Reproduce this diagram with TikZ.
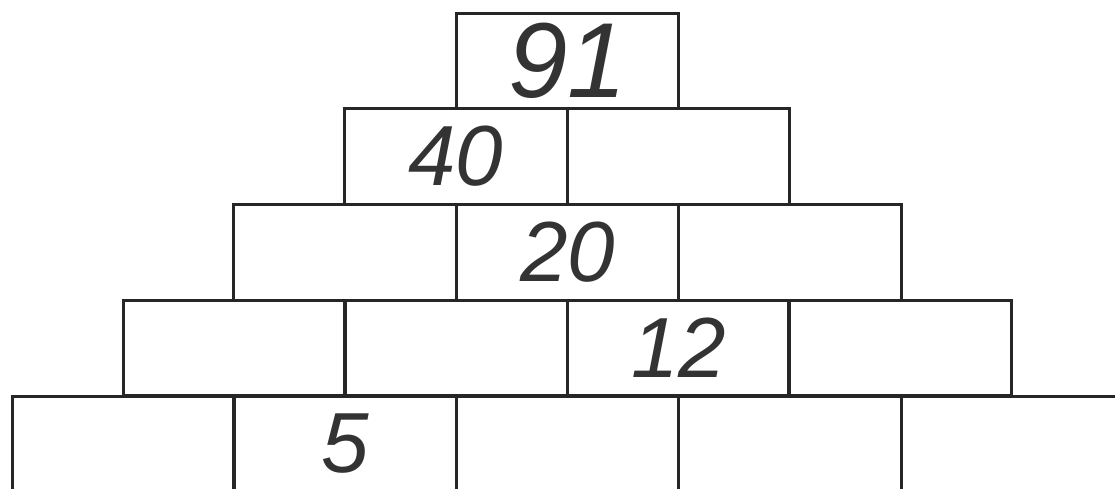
\documentclass[tikz,border=0pt]{standalone}
\usepackage{fontspec}
\setmainfont{Liberation Sans}
\begin{document}
\begin{tikzpicture}[x=0.75pt,y=-0.75pt,
  brick/.style={draw=black!85, line width=2.1pt, rectangle, minimum width=222.5*0.75pt, minimum height=95.5*0.75pt, inner sep=0pt, font=\itshape\fontsize{64}{64}\selectfont, text=black!80},
  bigbrick/.style={brick, font=\itshape\fontsize{80}{80}\selectfont}]
\useasboundingbox (0,0) rectangle (1115,489);
\clip (0,0) rectangle (1115,489);
% row 1
\node[bigbrick] (a1) at (567.5,61) {91};
% row 2
\node[brick] (b1) at (456,156.5) {40};
\node[brick] (b2) at (678.5,156.5) {};
% row 3
\node[brick] (c1) at (345,252.5) {};
\node[brick] (c2) at (567.5,252.5) {20};
\node[brick] (c3) at (790,252.5) {};
% row 4
\node[brick] (d1) at (234.5,348) {};
\node[brick] (d2) at (456,348) {};
\node[brick] (d3) at (678.5,348) {12};
\node[brick] (d4) at (900,348) {};
% row 5 (cut off at bottom)
\node[brick] (e1) at (123.5,444) {};
\node[brick] (e2) at (345,444) {5};
\node[brick] (e3) at (567.5,444) {};
\node[brick] (e4) at (790,444) {};
\node[brick] (e5) at (1012.5,444) {};
\end{tikzpicture}
\end{document}
